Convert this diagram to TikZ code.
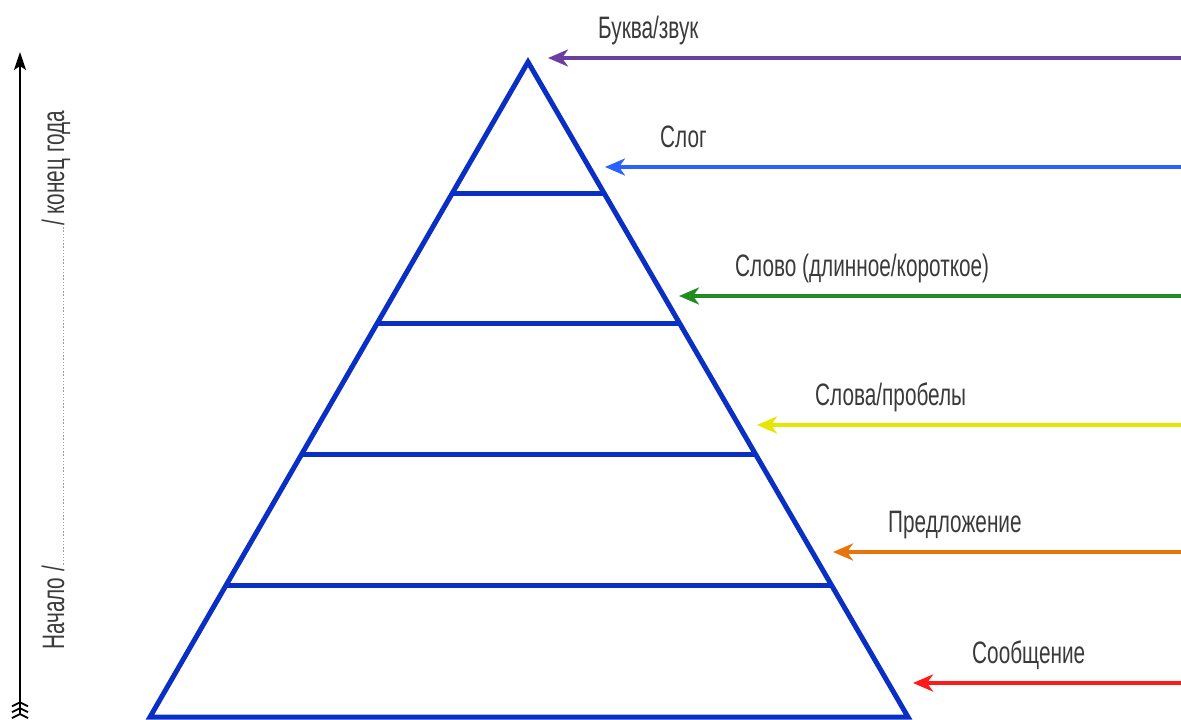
\documentclass[tikz,border=0pt]{standalone}
\usepackage{fontspec}
\setmainfont{Liberation Sans}[FakeStretch=0.67]
\usepackage{xcolor}
\usetikzlibrary{arrows.meta, positioning, calc}

\definecolor{pyrblue}{HTML}{0A2FC4}
\definecolor{cletter}{HTML}{6B3FA0}
\definecolor{csyll}{HTML}{2962FF}
\definecolor{cword}{HTML}{228B22}
\definecolor{cspace}{HTML}{E6E600}
\definecolor{csent}{HTML}{E8740C}
\definecolor{cmsg}{HTML}{FF1A1A}
\definecolor{txtgray}{HTML}{3A3A3A}

\tikzset{
  pyr/.style={draw=pyrblue, line width=5pt, line join=miter},
  lvlarrow/.style={line width=3.5pt, -{Stealth[length=20pt,width=17pt,inset=6pt]}},
  lbl/.style={text=txtgray, font=\fontsize{31}{33}\selectfont, inner sep=0pt},
}

\begin{document}
\begin{tikzpicture}[x=1pt, y=-1pt]
        \useasboundingbox (0,0) rectangle (1181,720);

        % Draw time axis on the left
        \coordinate (axbot) at (20,719);
        \coordinate (axtop) at (20,52);
        \draw[line width=1.8pt,
          {Straight Barb[reversed,length=4pt,width=16pt]Straight Barb[reversed,length=4pt,width=16pt]Straight Barb[reversed,length=4pt,width=16pt]}-{Stealth[length=18pt,width=12pt,inset=4pt]}]
          (axbot) -- (axtop);
        \node[lbl, rotate=90, anchor=base west] (period) at (64,650)
          {Начало /\cleaders\hbox to 3.2pt{\hss\textcolor{gray!75}{\rule{1.3pt}{1.3pt}}\hss}\hskip 340pt/ конец года};

        % Draw pyramid and its levels
        \coordinate (apex) at (528,62);
        \coordinate (bl) at (150,717);
        \coordinate (br) at (908,717);
        \draw[pyr] (bl) -- (apex) -- (br) -- cycle;
        \foreach \k in {1,...,4}
          \draw[pyr] ($(apex)!\k/5!(bl)$) -- ($(apex)!\k/5!(br)$);

        % Letter / sound
        \coordinate (s1) at (1181,58);
        \coordinate (t1) at (548,58);
        \draw[lvlarrow, cletter] (s1) -- (t1);
        \node[lbl, above right=20pt and 50pt of t1, anchor=base west] (letter) {Буква/звук};

        % Syllable
        \coordinate (s2) at (1181,167);
        \coordinate (t2) at (605,167);
        \draw[lvlarrow, csyll] (s2) -- (t2);
        \node[lbl, above right=20pt and 55pt of t2, anchor=base west] (syll) {Слог};

        % Word
        \coordinate (s3) at (1181,296);
        \coordinate (t3) at (679,296);
        \draw[lvlarrow, cword] (s3) -- (t3);
        \node[lbl, above right=20pt and 56pt of t3, anchor=base west] (word) {Слово (длинное/короткое)};

        % Words and spaces
        \coordinate (s4) at (1181,425);
        \coordinate (t4) at (757,425);
        \draw[lvlarrow, cspace] (s4) -- (t4);
        \node[lbl, above right=20pt and 58pt of t4, anchor=base west] (spaces) {Слова/пробелы};

        % Sentence
        \coordinate (s5) at (1181,552);
        \coordinate (t5) at (833,552);
        \draw[lvlarrow, csent] (s5) -- (t5);
        \node[lbl, above right=20pt and 55pt of t5, anchor=base west] (sent) {Предложение};

        % Message
        \coordinate (s6) at (1181,683);
        \coordinate (t6) at (913,683);
        \draw[lvlarrow, cmsg] (s6) -- (t6);
        \node[lbl, above right=20pt and 59pt of t6, anchor=base west] (msg) {Сообщение};
    \end{tikzpicture}
\end{document}
